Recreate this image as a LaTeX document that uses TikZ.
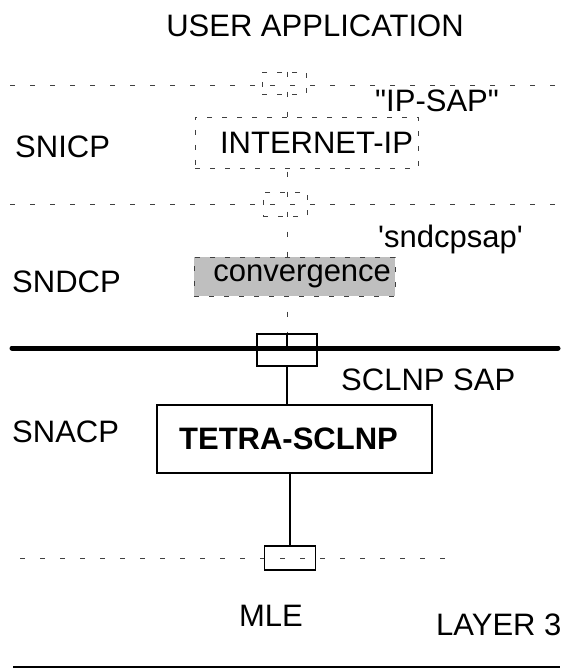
\documentclass[tikz,border=0pt]{standalone}
\usepackage{fontspec}
\setmainfont{Liberation Sans}[Ligatures=TeXOff]
\begin{document}
\begin{tikzpicture}[x=1pt,y=-1pt,
  lbl/.style={inner sep=0pt,font=\fontsize{31}{36}\selectfont},
  dline/.style={draw=black!75,line width=0.8pt,dash pattern=on 5pt off 15pt},
  dbox/.style={draw=black!75,line width=0.8pt,dash pattern=on 5pt off 10pt,inner sep=0pt},
  sbox/.style={draw=black,line width=1.6pt,inner sep=0pt}]
\useasboundingbox (0,0) rectangle (572,668);
% text labels
\node[lbl,anchor=base] (ua) at (315,37) {USER APPLICATION};
\node[lbl,anchor=base west] (snicp) at (15,158) {SNICP};
\node[lbl,anchor=base west] (sndcp) at (12,292) {SNDCP};
\node[lbl,anchor=base west] (snacp) at (12,442) {SNACP};
\node[lbl,anchor=base west] (ipsap) at (375,112) {"IP-SAP"};
\node[lbl,anchor=base west] (sndcpsap) at (378,247) {'sndcpsap'};
\node[lbl,anchor=base west] (sclnpsap) at (341,390) {SCLNP SAP};
\node[lbl,anchor=base] (mletxt) at (271,626) {MLE};
\node[lbl,anchor=base west] (layer) at (436,635) {LAYER 3};
% dashed horizontal lines
\coordinate (l1a) at (10,85); \coordinate (l1b) at (556,85);
\coordinate (l2a) at (10,204); \coordinate (l2b) at (556,204);
\coordinate (l3a) at (20,558); \coordinate (l3b) at (445,558);
\draw[dline] (l1a) -- (l1b);
\draw[dline] (l2a) -- (l2b);
\draw[dline] (l3a) -- (l3b);
% thick line and bottom line
\coordinate (ta) at (12,348); \coordinate (tb) at (558,348);
\coordinate (ba) at (13,667); \coordinate (bb) at (560,667);
\coordinate (tx) at (287,348);
% boxes
\node[dbox,minimum width=44pt,minimum height=22pt] (sap1) at (284,83) {};
\node[dbox,minimum width=44pt,minimum height=24pt] (sap2) at (285,204) {};
\draw[dline] (sap1.north -| tx) -- (tx);
\node[dbox,fill=white,minimum width=223pt,minimum height=51pt,text width=213pt,align=right,inner xsep=5pt,font=\fontsize{31}{36}\selectfont] (inet) at (306.5,142.5) {INTERNET-IP};
\node[dbox,fill=black!25,minimum width=201pt,minimum height=39pt,text width=193pt,align=right,inner xsep=4pt,font=\fontsize{31}{36}\selectfont] (conv) at (294.5,276.5) {convergence};
\draw[line width=5pt,line cap=round] (ta) -- (tb);
\node[sbox,minimum width=60pt,minimum height=32pt] (sap3) at (287,350) {};
\node[sbox,minimum width=275pt,minimum height=68pt,font=\bfseries\fontsize{31}{36}\selectfont,text width=263pt,align=center] (tetra) at (294.5,439) {\hspace*{-12pt}TETRA-SCLNP};
\node[sbox,minimum width=51pt,minimum height=24pt] (mle) at (290,558) {};
\draw[line width=1.6pt] (sap3.north -| tx) -- (tx);
\draw[line width=1.6pt] (sap3.south -| tx) -- (tetra.north -| tx);
\draw[line width=1.6pt] (tetra.south -| mle.north) -- (mle.north);
\draw[line width=1.6pt] (ba) -- (bb);
\end{tikzpicture}
\end{document}
